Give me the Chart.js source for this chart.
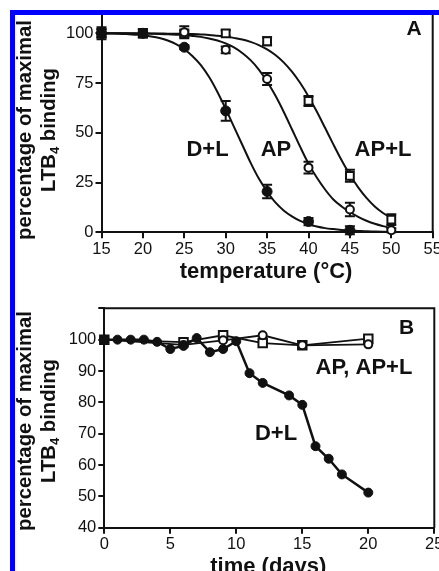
<!DOCTYPE html>
<html>
<head>
<meta charset="utf-8">
<script src="https://cdn.jsdelivr.net/npm/chart.js@4.4.1/dist/chart.umd.min.js"></script>
<style>
  html, body { margin: 0; padding: 0; background: #fff; overflow: hidden; }
  body { width: 439px; height: 571px; position: relative; }
  canvas { position: absolute; left: 0; }
  #chartA { top: 0; }
  #chartB { top: 285px; }
  .edge { position: absolute; background: #0000ff; }
</style>
</head>
<body>
<canvas id="chartA" width="460" height="290"></canvas>
<canvas id="chartB" width="460" height="290"></canvas>
<div class="edge" style="left:10px;top:10px;width:429px;height:5px"></div>
<div class="edge" style="left:10px;top:10px;width:5px;height:561px"></div>
<script>
// panel A - heat inactivation
const temps = [15, 20, 25, 30, 35, 40, 45, 50]
const dlTemp = [100, 100, 93, 61, 20.5, 5.4, 1]
const dlTempErr = [3, 2, 1, 5, 3.4, 1.8, 2]
const apTemp = [100, 100, 100.5, 91.7, 77, 32.5, 11.5, 1]
const apTempErr = [2, 2, 3, 1.7, 3, 3, 3.4, 1]
const aplTemp = [100, 100, 100, 100, 96, 66, 28.4, 6.4]
const aplTempErr = [2, 2, 1.5, 1.5, 2, 2.5, 3, 2.7]

// fitted curves
const fitTemps = [15, 16, 17, 18, 19, 20, 21, 22, 23, 24, 25, 26, 27, 28, 29, 30, 31, 32,
  33, 34, 35, 36, 37, 38, 39, 40, 41, 42, 43, 44, 45, 46, 47, 48, 49, 50]
const dlFit = [100, 99.9, 99.8, 99.6, 99.3, 99, 98.4, 97.6, 96.4, 94.6, 92, 88.5, 84, 78, 70.5, 62, 53, 44,
  35, 27, 20.5, 15, 11, 8, 5.7, 4, 2.9, 2.1, 1.6, 1.2, 0.9, 0.7, 0.5, 0.4, 0.3, 0.2]
const apFit = [100, 100, 100, 100, 99.9, 99.9, 99.8, 99.7, 99.5, 99.3, 99.1, 98.7, 98.2, 97.4, 96.4, 94.9, 92.9, 90.1,
  86.5, 81.8, 75.8, 68.7, 60.6, 51.8, 42.9, 34.5, 27.5, 21.5, 16.5, 13, 10.2, 7.8, 5.8, 4.3, 3.1, 2]
const aplFit = [100, 100, 100, 100, 100, 99.9, 99.9, 99.9, 99.8, 99.8, 99.7, 99.6, 99.4, 99.2, 98.8, 98.4, 97.7, 96.9,
  95.7, 94.1, 91.9, 89.1, 85.4, 80.7, 75, 68.3, 60.7, 52.5, 44.2, 36.2, 28.9, 22.6, 17.3, 13, 9.7, 7.1]

// panel B - stability over time
const dlDays = [0, 1, 2, 3, 4, 5, 6, 7, 8, 9, 10, 11, 12, 14, 15, 16, 17, 18, 20]
const dlTime = [100, 100, 100, 100, 99.3, 97, 98, 100.5, 96, 97, 99.5, 89.3, 86.2, 82.2, 79.2, 66, 62, 57, 51.2]
const apDays = [0, 6, 9, 12, 15, 20]
const apTime = [100, 98.3, 99.8, 101.4, 98.2, 98.5]
const aplTime = [100, 99.2, 101.4, 98.9, 98.2, 100.3]

const FONT = '"Liberation Sans", Arial, Helvetica, sans-serif'
const INK = '#111'

function pts(xs, ys) {
  return ys.map((y, i) => ({ x: xs[i], y: y }))
}

const errorBars = {
  id: 'errorBars',
  beforeDatasetsDraw(chart) {
    let ctx = chart.ctx
    let sx = chart.scales.x, sy = chart.scales.y
    ctx.save()
    ctx.strokeStyle = INK
    ctx.lineWidth = 2
    chart.data.datasets.forEach(ds => {
      if (!ds.errors) return
      ds.data.forEach((p, i) => {
        let e = ds.errors[i]
        let px = sx.getPixelForValue(p.x)
        let top = sy.getPixelForValue(p.y + e)
        let bot = sy.getPixelForValue(p.y - e)
        ctx.beginPath()
        ctx.moveTo(px, top); ctx.lineTo(px, bot)
        ctx.moveTo(px - 5, top); ctx.lineTo(px + 5, top)
        ctx.moveTo(px - 5, bot); ctx.lineTo(px + 5, bot)
        ctx.stroke()
      })
    })
    ctx.restore()
  }
}

// closes the box (top + right) and writes the titles / notes
const extras = {
  id: 'extras',
  afterDraw(chart, args, opts) {
    let ctx = chart.ctx
    let a = chart.chartArea
    ctx.save()
    ctx.strokeStyle = INK
    ctx.lineWidth = 2
    ctx.beginPath()
    ctx.moveTo(a.left, a.top)
    ctx.lineTo(a.right, a.top)
    ctx.lineTo(a.right, a.bottom)
    ctx.stroke()

    ctx.fillStyle = INK
    ctx.textAlign = 'center'
    ctx.textBaseline = 'alphabetic'
    opts.notes.forEach(n => {
      ctx.font = `bold ${n.size}px ${FONT}`
      ctx.fillText(n.text, n.x, n.y)
    })

    // x title
    ctx.font = `bold 22px ${FONT}`
    ctx.fillText(opts.xTitle, (a.left + a.right) / 2 - 1, opts.xTitleY)

    // y title, two lines, LTB with subscript 4
    let cy = opts.yTitleY
    ctx.save()
    ctx.translate(31, cy)
    ctx.rotate(-Math.PI / 2)
    ctx.font = `bold 20.3px ${FONT}`
    ctx.fillText('percentage of maximal', 0, 0)
    ctx.restore()

    ctx.save()
    ctx.translate(54.5, cy)
    ctx.rotate(-Math.PI / 2)
    ctx.textAlign = 'left'
    let big = `bold 20.3px ${FONT}`, small = `bold 13px ${FONT}`
    ctx.font = big
    let w1 = ctx.measureText('LTB').width
    let w3 = ctx.measureText(' binding').width
    ctx.font = small
    let w2 = ctx.measureText('4').width
    let x0 = -(w1 + w2 + w3) / 2
    ctx.font = big
    ctx.fillText('LTB', x0, 0)
    ctx.font = small
    ctx.fillText('4', x0 + w1, 4.5)
    ctx.font = big
    ctx.fillText(' binding', x0 + w1 + w2, 0)
    ctx.restore()
    ctx.restore()
  }
}

function scales(xMin, xMax, yMin, yMax, yStep, yWidth, xHeight) {
  let grid = { drawOnChartArea: false, drawTicks: true, tickLength: 6, color: INK, lineWidth: 2 }
  let border = { color: INK, width: 2 }
  let tickFont = { family: FONT, size: 16.5 }
  return {
    x: {
      type: 'linear', min: xMin, max: xMax,
      grid: grid, border: border,
      ticks: { stepSize: 5, font: tickFont, color: INK, padding: 1, maxRotation: 0 },
      afterFit: s => { s.height = xHeight }
    },
    y: {
      type: 'linear', min: yMin, max: yMax,
      grid: grid, border: border,
      ticks: {
        stepSize: yStep, font: tickFont, color: INK, padding: 2,
        callback: v => (v > 100 ? '' : v)
      },
      afterFit: s => { s.width = yWidth }
    }
  }
}

function marker(label, xs, ys, style, filled, r, errs) {
  return {
    label: label,
    data: pts(xs, ys),
    errors: errs,
    showLine: false,
    pointStyle: style,
    pointRadius: r,
    pointBackgroundColor: filled ? INK : '#fff',
    pointBorderColor: INK,
    pointBorderWidth: filled ? 1 : 2,
    clip: false
  }
}

function fit(ys) {
  return {
    data: pts(fitTemps, ys),
    showLine: true,
    borderColor: INK,
    borderWidth: 2,
    pointRadius: 0,
    cubicInterpolationMode: 'monotone',
    clip: false
  }
}

new Chart(document.getElementById('chartA'), {
  type: 'scatter',
  data: {
    datasets: [
      marker('D+L', temps, dlTemp, 'circle', true, 5, dlTempErr),
      marker('AP', temps, apTemp, 'circle', false, 4, apTempErr),
      marker('AP+L', temps, aplTemp, 'rect', false, 5.5, aplTempErr),
      fit(dlFit),
      fit(apFit),
      fit(aplFit)
    ]
  },
  options: {
    responsive: false,
    animation: false,
    layout: { padding: { top: 13.4, right: 27.3, left: 0, bottom: 0 } },
    scales: scales(15, 55, 0, 110, 25, 101.5, 57.7),
    plugins: {
      legend: { display: false },
      tooltip: { enabled: false },
      extras: {
        notes: [
          { text: 'A', x: 414, y: 35, size: 21 },
          { text: 'D+L', x: 207.5, y: 156, size: 22 },
          { text: 'AP', x: 276, y: 156, size: 22 },
          { text: 'AP+L', x: 383, y: 156, size: 22 }
        ],
        xTitle: 'temperature (°C)',
        xTitleY: 278,
        yTitleY: 130
      }
    }
  },
  plugins: [errorBars, extras]
})

new Chart(document.getElementById('chartB'), {
  type: 'scatter',
  data: {
    datasets: [
      Object.assign(marker('D+L', dlDays, dlTime, 'circle', true, 4.5), { showLine: true, borderColor: INK, borderWidth: 2.5 }),
      Object.assign(marker('AP', apDays, apTime, 'circle', false, 4), { showLine: true, borderColor: INK, borderWidth: 1.8 }),
      Object.assign(marker('AP+L', apDays, aplTime, 'rect', false, 6), { showLine: true, borderColor: INK, borderWidth: 1.8 })
    ]
  },
  options: {
    responsive: false,
    animation: false,
    layout: { padding: { top: 23.3, right: 25.7, left: 0, bottom: 0 } },
    scales: scales(0, 25, 40, 110, 10, 104.3, 47.3),
    plugins: {
      legend: { display: false },
      tooltip: { enabled: false },
      extras: {
        notes: [
          { text: 'B', x: 406.5, y: 48.5, size: 21 },
          { text: 'AP, AP+L', x: 364, y: 88.5, size: 22 },
          { text: 'D+L', x: 276, y: 155, size: 22 }
        ],
        xTitle: 'time (days)',
        xTitleY: 288.4,
        yTitleY: 136
      }
    }
  },
  plugins: [errorBars, extras]
})
</script>
</body>
</html>
